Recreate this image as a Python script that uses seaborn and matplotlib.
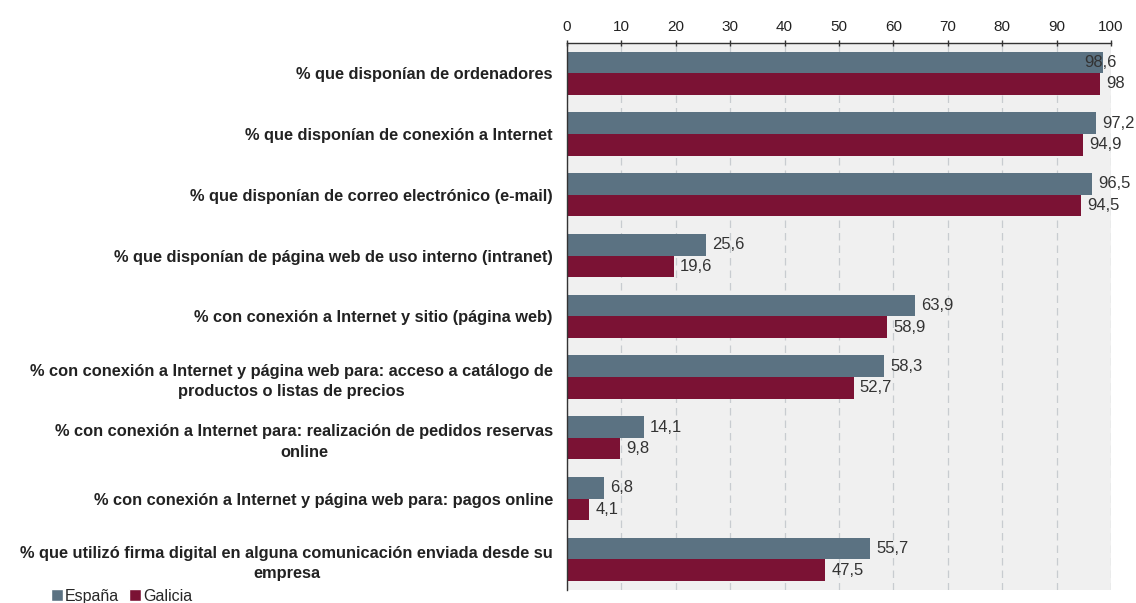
import numpy as np
import pandas as pd
import matplotlib
matplotlib.use("Agg")
import matplotlib.pyplot as plt
import seaborn as sns
from matplotlib.patches import Patch

categorias = [
    "% que disponían de ordenadores",
    "% que disponían de conexión a Internet",
    "% que disponían de correo electrónico (e-mail)",
    "% que disponían de página web de uso interno (intranet)",
    "% con conexión a Internet y sitio (página web)",
    "% con conexión a Internet y página web para: acceso a catálogo de\nproductos o listas de precios",
    "% con conexión a Internet para: realización de pedidos reservas\nonline",
    "% con conexión a Internet y página web para: pagos online",
    "% que utilizó firma digital en alguna comunicación enviada desde su\nempresa",
]
espana = [98.6, 97.2, 96.5, 25.6, 63.9, 58.3, 14.1, 6.8, 55.7]
galicia = [98, 94.9, 94.5, 19.6, 58.9, 52.7, 9.8, 4.1, 47.5]
series = ["España", "Galicia"]
colores = ["#5b7282", "#7b1234"]

df = pd.DataFrame({
    "categoria": categorias * 2,
    "valor": espana + galicia,
    "serie": [series[0]] * len(espana) + [series[1]] * len(galicia),
})

sns.set_style("white")
plt.rcParams["font.family"] = ["Liberation Sans", "DejaVu Sans"]

fig = plt.figure(figsize=(11.36, 6.03), dpi=100)
ax = fig.add_axes([0.499, 0.022, 0.479, 0.907])
ax.set_facecolor("#f0f0f0")

sns.barplot(data=df, y="categoria", x="valor", hue="serie", orient="h",
            palette=colores, width=0.71, saturation=1, linewidth=0,
            ax=ax, legend=False)

textos = []
for cont in ax.containers:
    labels = [f"{v:g}".replace(".", ",") for v in cont.datavalues]
    textos += ax.bar_label(cont, labels=labels, padding=4.5, fontsize=12,
                           color="#333333")

ax.set_xlim(0, 100)
ax.set_xticks(np.arange(0, 101, 10))
ax.xaxis.tick_top()
ax.tick_params(axis="x", length=5, width=1, color="#333333", labelsize=11, pad=4,
               direction="inout", labelcolor="#222222")
ax.grid(axis="x", color="#c8ccd0", linestyle=(0, (6, 4)), linewidth=0.9)
ax.set_axisbelow(True)

n = len(categorias)
ax.set_ylim(n - 0.5, -0.5)
ax.set_yticks(np.arange(n))
ax.set_yticklabels(categorias, fontsize=11.8, fontweight="bold", color="#222222",
                   multialignment="center", linespacing=1.45)
ax.tick_params(axis="y", length=0, pad=10)
ax.set_yticks(np.arange(n + 1) - 0.5, minor=True)
ax.tick_params(axis="y", which="minor", length=5, direction="out", color="#333333")

ax.set_xlabel("")
ax.set_ylabel("")
for s in ["right", "bottom"]:
    ax.spines[s].set_visible(False)
for s in ["left", "top"]:
    ax.spines[s].set_color("#333333")
    ax.spines[s].set_linewidth(1)

# a label that would run past the figure edge is pulled back inside
fig.canvas.draw()
renderer = fig.canvas.get_renderer()
W = fig.bbox.width
for t in textos:
    bb = t.get_window_extent(renderer)
    if bb.x1 > W:
        off = bb.x1 - (W - 19)
        t.xyann = (t.xyann[0] - off * 72 / fig.dpi, t.xyann[1])

handles = [Patch(facecolor=c, label=s) for s, c in zip(series, colores)]
fig.legend(handles=handles, loc="lower left", bbox_to_anchor=(0.039, -0.012), ncol=2,
           frameon=False, fontsize=11.5, handlelength=0.75, handleheight=0.75,
           handletextpad=0.15, columnspacing=0.6, borderaxespad=0)

fig.savefig("out.png", dpi=100)
